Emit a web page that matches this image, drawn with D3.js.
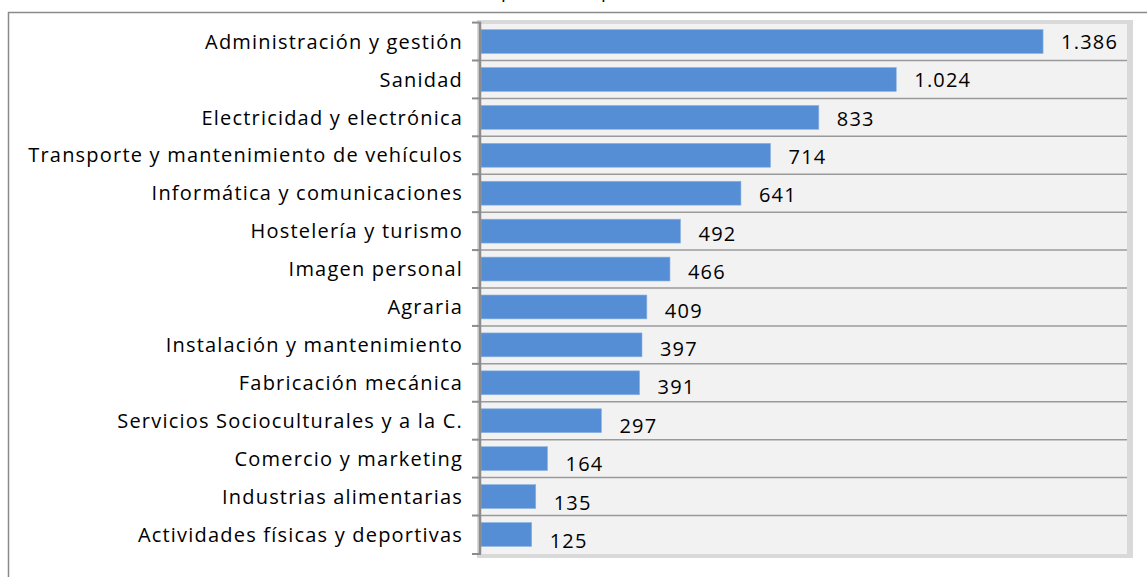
<!DOCTYPE html>
<html lang="es">
<head>
<meta charset="UTF-8">
<title>Alumnado por familia profesional</title>
<script src="https://d3js.org/d3.v7.min.js"></script>
<style>
    body { margin: 0; background: #fff; }
    svg text { font-family: "Open Sans", "Noto Sans", sans-serif; fill: #000; }
</style>
</head>
<body>
<script>
    const categories = [
        "Administración y gestión",
        "Sanidad",
        "Electricidad y electrónica",
        "Transporte y mantenimiento de vehículos",
        "Informática y comunicaciones",
        "Hostelería y turismo",
        "Imagen personal",
        "Agraria",
        "Instalación y mantenimiento",
        "Fabricación mecánica",
        "Servicios Socioculturales y a la C.",
        "Comercio y marketing",
        "Industrias alimentarias",
        "Actividades físicas y deportivas"
    ];
    const values = [1386, 1024, 833, 714, 641, 492, 466, 409, 397, 391, 297, 164, 135, 125];
    const title = "Alumnado por familia profesional";

    const width = 1147, height = 577;
    const plot = { left: 481, right: 1127, top: 22, bottom: 554 };

    const svg = d3.select("body").append("svg")
        .attr("width", width)
        .attr("height", height);

    // outer chart frame (runs off the picture on the right and bottom)
    svg.append("rect")
        .attr("x", 8.5).attr("y", 12.5)
        .attr("width", 1200).attr("height", 700)
        .attr("fill", "none")
        .attr("stroke", "#8a8a8a")
        .attr("stroke-width", 1.5);

    // title, mostly cut off above the picture like in the source
    svg.append("text")
        .attr("x", 553).attr("y", -2)
        .attr("text-anchor", "middle")
        .style("font-size", "19px")
        .text(title);

    const x = d3.scaleLinear()
        .domain([0, 1593])
        .range([plot.left, plot.right]);

    const y = d3.scaleBand()
        .domain(categories)
        .range([plot.top, plot.bottom])
        .paddingInner(0.37)
        .paddingOuter(0.2);

    // 3D walls
    svg.append("rect")
        .attr("x", plot.left - 4).attr("y", plot.top - 2)
        .attr("width", plot.right - plot.left + 10).attr("height", plot.bottom - plot.top + 6)
        .attr("fill", "#d9d9d9");
    svg.append("rect")
        .attr("x", plot.left).attr("y", plot.top + 2)
        .attr("width", plot.right - plot.left).attr("height", plot.bottom - plot.top - 2)
        .attr("fill", "#f2f2f2");

    // category separators
    const edges = categories.map(c => y(c) - y.step() * y.paddingInner() / 2);
    edges.push(plot.bottom);
    svg.append("g").selectAll("line")
        .data(edges.slice(1, -1))
        .join("line")
        .attr("x1", plot.left).attr("x2", plot.right)
        .attr("y1", d => d).attr("y2", d => d)
        .attr("stroke", "#9a9a9a")
        .attr("stroke-width", 1.5);

    // bars
    svg.append("g").selectAll("rect")
        .data(values)
        .join("rect")
        .attr("x", x(0))
        .attr("y", (d, i) => y(categories[i]))
        .attr("width", d => x(d) - x(0))
        .attr("height", y.bandwidth())
        .attr("fill", "#558ed5")
        .attr("stroke", "#8db3e2")
        .attr("stroke-width", 0.6);

    // value labels
    const fmt = d3.formatLocale({ decimal: ",", thousands: ".", grouping: [3] }).format(",d");
    svg.append("g").selectAll("text")
        .data(values)
        .join("text")
        .attr("x", d => x(d) + 18)
        .attr("y", (d, i) => y(categories[i]) + y.bandwidth() / 2 + i * 0.5)
        .attr("dy", "0.36em")
        .style("font-size", "20px")
        .style("letter-spacing", "1.2px")
        .text(d => fmt(d));

    // category axis
    const yAxis = d3.axisLeft(y).tickSize(0).tickPadding(17);
    const gy = svg.append("g")
        .attr("transform", `translate(${plot.left - 1},0)`)
        .call(yAxis);
    gy.select(".domain").remove();
    gy.selectAll("text")
        .style("font-size", "20px")
        .style("letter-spacing", "1.2px")
        .attr("dy", "0.36em");

    svg.append("line")
        .attr("x1", plot.left - 1).attr("x2", plot.left - 1)
        .attr("y1", plot.top).attr("y2", plot.bottom)
        .attr("stroke", "#8c8c8c").attr("stroke-width", 2.5);
    svg.append("g").selectAll("line")
        .data(edges)
        .join("line")
        .attr("x1", plot.left - 9).attr("x2", plot.left)
        .attr("y1", d => d).attr("y2", d => d)
        .attr("stroke", "#8c8c8c").attr("stroke-width", 2);
</script>
</body>
</html>
